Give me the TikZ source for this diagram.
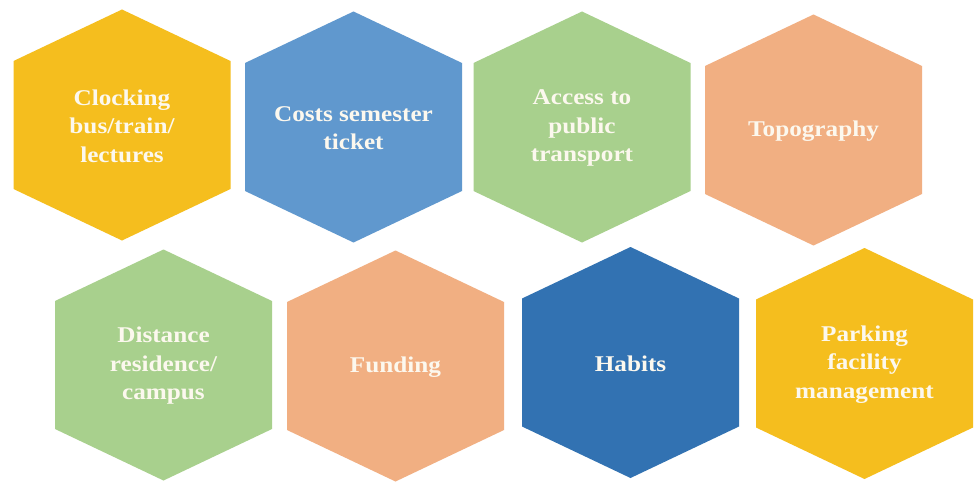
\documentclass[tikz,border=0pt]{standalone}
\usepackage{fontspec}
\setmainfont{Liberation Serif}
\definecolor{hyellow}{RGB}{245,190,30}
\definecolor{hblue}{RGB}{96,152,206}
\definecolor{hgreen}{RGB}{168,208,141}
\definecolor{hsalmon}{RGB}{241,175,130}
\definecolor{hdark}{RGB}{50,114,178}
\definecolor{htext}{RGB}{252,248,238}
\tikzset{
  hexlabel/.style={text=htext, font=\bfseries\fontsize{22.5}{28.5}\selectfont, align=center, xscale=1.12, inner sep=0pt},
}
\newcommand\hexcell[5]{%
  \fill[#3] (#1,#2) ++(0,-115.5) -- ++(108.5,51.5) -- ++(0,128) -- ++(-108.5,51.5) -- ++(-108.5,-51.5) -- ++(0,-128) -- cycle;
  \node[hexlabel] (#4) at (#1,#2+1) {#5};
}
\begin{document}
\begin{tikzpicture}[x=1pt,y=-1pt]
\useasboundingbox (0,0) rectangle (976,484);
\fill[white] (0,0) rectangle (976,484);
\hexcell{122}{125}{hyellow}{clock}{Clocking\\bus/train/\\lectures}
\hexcell{353.5}{127}{hblue}{costs}{Costs semester\\ticket}
\hexcell{582}{127}{hgreen}{access}{Access to\\public\\transport}
\hexcell{813.5}{130}{hsalmon}{topo}{Topography}
\hexcell{163.5}{365}{hgreen}{dist}{Distance\\residence/\\campus}
\hexcell{395.5}{366}{hsalmon}{fund}{Funding}
\hexcell{630.5}{362.5}{hdark}{habits}{Habits}
\hexcell{864.5}{363.5}{hyellow}{park}{Parking\\facility\\management}
\end{tikzpicture}
\end{document}
